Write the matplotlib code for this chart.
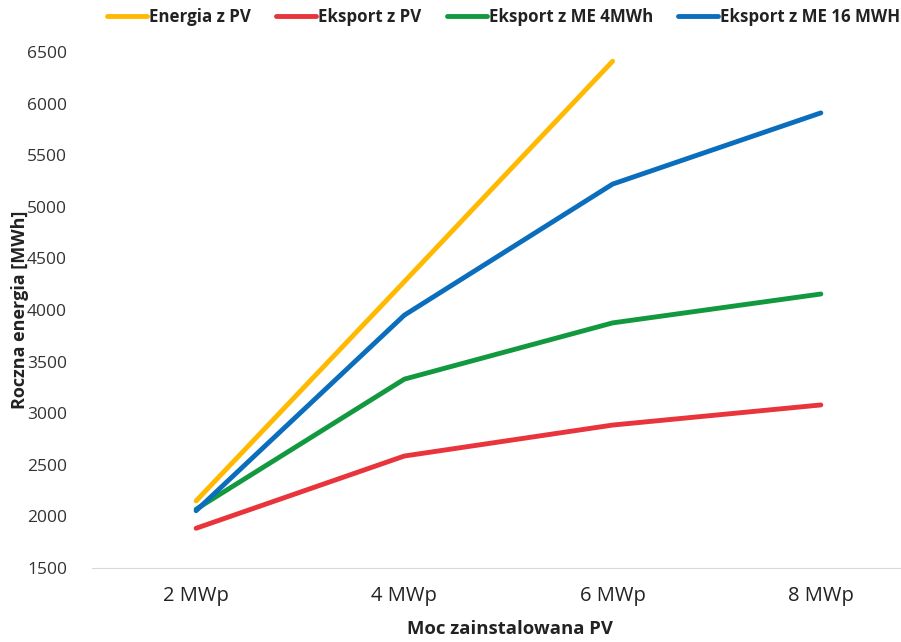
import matplotlib.pyplot as plt

plt.rcParams['font.family'] = ['Open Sans', 'DejaVu Sans']

categories = ['2 MWp', '4 MWp', '6 MWp', '8 MWp']
energia_pv = [2150, 4275, 6410]
eksport_pv = [1885, 2585, 2885, 3080]
eksport_me4 = [2070, 3330, 3875, 4155]
eksport_me16 = [2055, 3950, 5220, 5910]

series = [
    ('Energia z PV', energia_pv, '#FFB900'),
    ('Eksport z PV', eksport_pv, '#E8343A'),
    ('Eksport z ME 4MWh', eksport_me4, '#12993F'),
    ('Eksport z ME 16 MWH', eksport_me16, '#0A6EBD'),
]

fig = plt.figure(figsize=(9.01, 6.42), dpi=100)
ax = fig.add_axes([92 / 901, 74 / 642, 1 - 92 / 901, 516 / 642])

x = list(range(len(categories)))
for name, vals, col in series:
    ax.plot(x[:len(vals)], vals, color=col, lw=3.5, label=name, solid_capstyle='round')

ax.set_xlim(-0.5, 3.385)
ax.set_ylim(1500, 6500)
ax.set_yticks(range(1500, 7000, 500))
ax.set_xticks(x)
ax.set_xticklabels(categories, fontsize=14.5, color='#222222')
ax.tick_params(axis='y', labelsize=12.5, colors='#333333', length=0, pad=18)
ax.tick_params(axis='x', length=0, pad=13)
for s in ['top', 'right', 'left']:
    ax.spines[s].set_visible(False)
ax.spines['bottom'].set_color('#d9d9d9')

ax.set_ylabel('Roczna energia [MWh]', fontsize=13, fontweight='bold', color='#222222')
ax.set_xlabel('Moc zainstalowana PV', fontsize=13.3, fontweight='bold', color='#222222')
ax.yaxis.set_label_coords(-0.078, 0.5)
ax.xaxis.set_label_coords(0.517, -0.1)

leg = fig.legend(loc='upper center', bbox_to_anchor=(0.559, 1.012), ncol=4, frameon=False,
                 handlelength=2.35, handletextpad=0.12, columnspacing=1.5,
                 prop={'weight': 'bold', 'size': 12.2})
for t in leg.get_texts():
    t.set_color('#222222')

fig.savefig('out.png', dpi=100)
